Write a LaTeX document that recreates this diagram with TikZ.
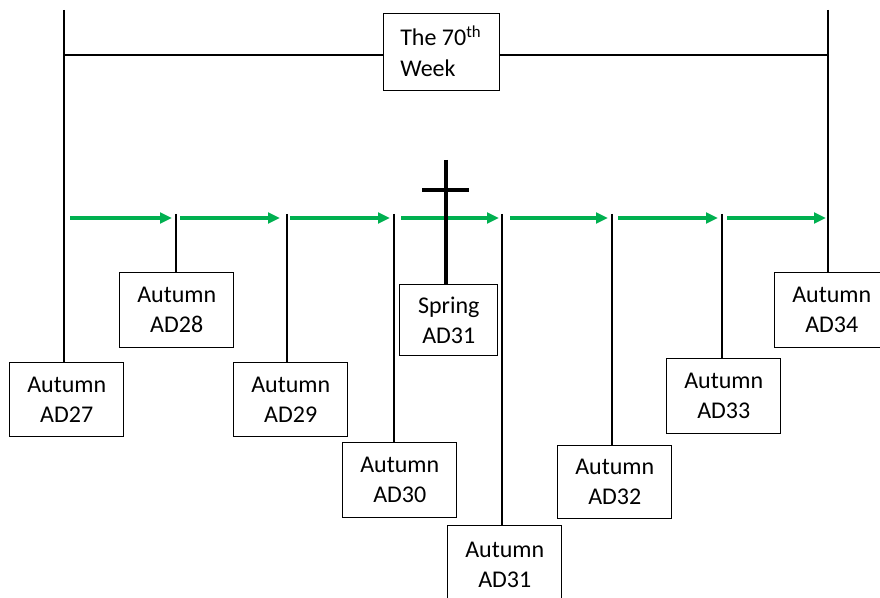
\documentclass[tikz,border=0pt]{standalone}
\usepackage{fontspec}
\setmainfont{Carlito}
\usetikzlibrary{arrows.meta}
\definecolor{wgreen}{RGB}{0,176,80}
\tikzset{
  yearbox/.style={draw, line width=1.1pt, fill=white, align=center, inner sep=0pt,
    font=\fontsize{18pt}{22.5pt}\selectfont, anchor=north west},
  conn/.style={line width=1.1pt},
  garrow/.style={wgreen, line width=2.4pt, -{Triangle[length=9pt,width=8pt]}}
}
\begin{document}
\begin{tikzpicture}[x=0.75pt,y=-0.75pt]
\useasboundingbox (0,0) rectangle (880,598);
\clip (0,0) rectangle (880,598);
% boxes: x, y (top-left), width, height
\node[yearbox, minimum width=114*0.75pt, minimum height=74*0.75pt] (b27) at (9,362) {Autumn\\AD27};
\node[yearbox, minimum width=114*0.75pt, minimum height=75*0.75pt] (b28) at (119,272) {Autumn\\AD28};
\node[yearbox, minimum width=114*0.75pt, minimum height=74*0.75pt] (b29) at (233,362) {Autumn\\AD29};
\node[yearbox, minimum width=114*0.75pt, minimum height=75*0.75pt] (b30) at (342,442) {Autumn\\AD30};
\node[yearbox, minimum width=98*0.75pt, minimum height=71*0.75pt] (bsp) at (399,284) {Spring\\AD31};
\node[yearbox, minimum width=114*0.75pt, minimum height=78*0.75pt] (b31) at (447,525) {Autumn\\AD31};
\node[yearbox, minimum width=114*0.75pt, minimum height=73*0.75pt] (b32) at (557,445) {Autumn\\AD32};
\node[yearbox, minimum width=114*0.75pt, minimum height=75*0.75pt] (b33) at (666,358) {Autumn\\AD33};
\node[yearbox, minimum width=114*0.75pt, minimum height=75*0.75pt] (b34) at (774,272) {Autumn\\AD34};
% top box
\node[draw, line width=1.1pt, fill=white, anchor=north west, inner sep=0pt,
  minimum width=116*0.75pt, minimum height=77*0.75pt] (top) at (383,13) {};
\node[anchor=base west, inner sep=0pt, font=\fontsize{18pt}{22pt}\selectfont] (t1) at (400,46) {The 70\textsuperscript{th}};
\node[anchor=base west, inner sep=0pt, font=\fontsize{18pt}{22pt}\selectfont] (t2) at (400,77) {Week};
% coordinates
\coordinate (lt) at (64,10);
\coordinate (rt) at (828,10);
\coordinate (lh) at (64,55);
\coordinate (rh) at (828,55);
\coordinate (v28) at (176,214);
\coordinate (v29) at (287,214);
\coordinate (v30) at (394,214);
\coordinate (v31) at (502,214);
\coordinate (v32) at (612,214);
\coordinate (v33) at (722,214);
\coordinate (ct) at (446,160);
\coordinate (cl) at (422,190);
\coordinate (cr) at (469,190);
% frame lines
\draw[conn] (lt) -- (lt |- b27.north);
\draw[conn] (rt) -- (rt |- b34.north);
\draw[conn] (lh) -- (lh -| top.west);
\draw[conn] (rh -| top.east) -- (rh);
% verticals to boxes
\draw[conn] (v28) -- (v28 |- b28.north);
\draw[conn] (v29) -- (v29 |- b29.north);
\draw[conn] (v30) -- (v30 |- b30.north);
\draw[conn] (v31) -- (v31 |- b31.north);
\draw[conn] (v32) -- (v32 |- b32.north);
\draw[conn] (v33) -- (v33 |- b33.north);
% green arrows
\foreach \s/\e/\n in {70/172/a1,180/280/a2,290/390/a3,401/499/a4,510/608/a5,618/718/a6,727/826/a7}{
  \coordinate (\n s) at (\s,218);
  \coordinate (\n e) at (\e,218);
  \draw[garrow] (\n s) -- (\n e);
}
% cross
\draw[line width=2.4pt] (ct) -- (ct |- bsp.north);
\draw[line width=2.4pt] (cl) -- (cr);
\end{tikzpicture}
\end{document}
